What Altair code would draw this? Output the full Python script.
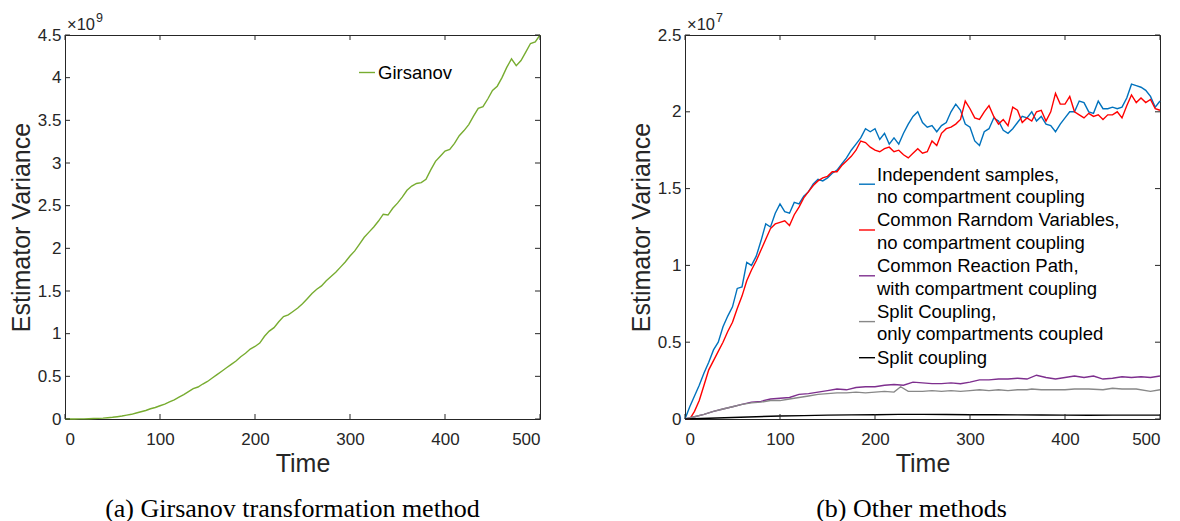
import altair as alt
import pandas as pd

# ---------------- data ----------------
time_a = list(range(0, 501, 5))
girsanov = [0, 0, 0, 0.001, 0.002, 0.003, 0.005, 0.007, 0.01, 0.015,
            0.02, 0.027, 0.035, 0.045, 0.055, 0.07, 0.085, 0.1, 0.12, 0.135,
            0.155, 0.175, 0.2, 0.225, 0.255, 0.285, 0.32, 0.355, 0.375, 0.41,
            0.44, 0.48, 0.52, 0.56, 0.6, 0.64, 0.68, 0.73, 0.77, 0.82,
            0.85, 0.89, 0.97, 1.03, 1.07, 1.14, 1.2, 1.22, 1.26, 1.3,
            1.35, 1.41, 1.47, 1.52, 1.56, 1.62, 1.67, 1.72, 1.78, 1.84,
            1.91, 1.97, 2.05, 2.13, 2.19, 2.25, 2.32, 2.4, 2.39, 2.47,
            2.53, 2.6, 2.68, 2.73, 2.76, 2.77, 2.81, 2.92, 3.02, 3.08,
            3.14, 3.16, 3.23, 3.32, 3.38, 3.45, 3.55, 3.64, 3.66, 3.75,
            3.85, 3.9, 4.0, 4.12, 4.22, 4.14, 4.2, 4.3, 4.4, 4.42, 4.5]

time_b = list(range(0, 501, 5))
independent = [0, 0.08, 0.15, 0.22, 0.30, 0.37, 0.45, 0.50, 0.60, 0.67,
               0.73, 0.85, 0.86, 1.02, 1.00, 1.06, 1.16, 1.27, 1.25, 1.34,
               1.40, 1.35, 1.34, 1.41, 1.40, 1.45, 1.48, 1.53, 1.56, 1.55,
               1.57, 1.60, 1.62, 1.66, 1.70, 1.75, 1.79, 1.83, 1.89, 1.87,
               1.89, 1.82, 1.86, 1.79, 1.83, 1.79, 1.86, 1.92, 1.97, 2.00,
               1.93, 1.90, 1.91, 1.87, 1.91, 1.93, 2.00, 2.05, 2.01, 1.92,
               1.90, 1.81, 1.78, 1.87, 1.89, 1.96, 1.94, 1.88, 1.86, 1.89,
               1.93, 1.97, 1.96, 2.00, 1.94, 1.97, 1.92, 1.91, 1.87, 1.92,
               1.96, 2.00, 2.00, 2.07, 2.06, 2.00, 1.99, 2.07, 2.02, 2.02,
               2.03, 2.02, 2.03, 2.09, 2.18, 2.17, 2.16, 2.14, 2.10, 2.03, 2.07]
common_random = [0, 0.0, 0.05, 0.12, 0.22, 0.32, 0.38, 0.44, 0.50, 0.57,
                 0.63, 0.72, 0.80, 0.90, 0.97, 1.03, 1.10, 1.17, 1.24, 1.27,
                 1.28, 1.29, 1.26, 1.33, 1.38, 1.44, 1.48, 1.52, 1.55, 1.57,
                 1.58, 1.61, 1.61, 1.65, 1.68, 1.71, 1.75, 1.81, 1.80, 1.77,
                 1.75, 1.74, 1.76, 1.77, 1.74, 1.75, 1.72, 1.70, 1.73, 1.76,
                 1.73, 1.74, 1.81, 1.78, 1.86, 1.89, 1.90, 1.92, 1.95, 2.07,
                 2.02, 1.96, 1.95, 2.00, 2.04, 1.97, 1.92, 1.95, 1.91, 2.03,
                 2.01, 1.93, 1.96, 1.94, 2.00, 2.01, 1.94, 2.00, 2.12, 2.05,
                 2.05, 2.10, 2.00, 1.98, 1.96, 1.99, 1.97, 1.98, 1.95, 1.98,
                 1.98, 2.00, 1.96, 2.04, 2.11, 2.06, 2.09, 2.06, 2.08, 2.02, 2.01]

time_c = list(range(0, 501, 10))
reaction_path = [0, 0.015, 0.03, 0.05, 0.065, 0.08, 0.095, 0.11, 0.115, 0.13,
                 0.135, 0.14, 0.16, 0.165, 0.175, 0.185, 0.195, 0.19, 0.205, 0.21,
                 0.21, 0.22, 0.225, 0.22, 0.24, 0.235, 0.23, 0.23, 0.235, 0.23,
                 0.24, 0.255, 0.255, 0.26, 0.26, 0.265, 0.26, 0.285, 0.27, 0.26,
                 0.27, 0.28, 0.27, 0.28, 0.26, 0.265, 0.275, 0.27, 0.275, 0.27, 0.28]

time_d = [0, 10, 20, 30, 40, 50, 60, 70, 80, 90, 100, 110, 120, 130, 140, 150,
          160, 170, 180, 190, 200, 210, 220, 227, 235, 250, 260, 270, 280, 290,
          300, 310, 320, 330, 340, 350, 360, 365, 375, 390, 400, 410, 425, 440,
          450, 460, 475, 490, 500]
split_compartments = [0, 0.015, 0.03, 0.05, 0.065, 0.08, 0.095, 0.105, 0.11, 0.12,
                      0.12, 0.13, 0.14, 0.15, 0.16, 0.165, 0.17, 0.17, 0.175, 0.17,
                      0.175, 0.18, 0.175, 0.21, 0.18, 0.18, 0.185, 0.18, 0.185, 0.18,
                      0.185, 0.19, 0.185, 0.19, 0.185, 0.19, 0.19, 0.195, 0.19, 0.19,
                      0.19, 0.195, 0.195, 0.19, 0.2, 0.195, 0.195, 0.18, 0.19]

time_e = list(range(0, 501, 25))
split_coupling = [0, 0.005, 0.01, 0.015, 0.02, 0.022, 0.025, 0.027, 0.028, 0.03,
                  0.03, 0.029, 0.028, 0.028, 0.027, 0.026, 0.025, 0.024, 0.025, 0.025, 0.025]

x_ticks = [0, 100, 200, 300, 400, 500]
y_ticks_a = [0, 0.5, 1, 1.5, 2, 2.5, 3, 3.5, 4, 4.5]
y_ticks_b = [0, 0.5, 1, 1.5, 2, 2.5]

legend_a = ["Girsanov"]
legend_b = [["Independent samples,", "no compartment coupling"],
            ["Common Rarndom Variables,", "no compartment coupling"],
            ["Common Reaction Path,", "with compartment coupling"],
            ["Split Coupling,", "only compartments coupled"],
            ["Split coupling"]]
colors_b = ["#0072BD", "#FF0000", "#7E2F8E", "#888888", "#000000"]
color_a = "#77AC30"

# ---------------- style ----------------
FONT = "Liberation Sans"
AX = "#262626"
W, H = 475, 384
TK = 5


def panel(series, y_ticks, ymax, exponent, legend_layers, caption, dx):
    xs = alt.Scale(domain=[0, 500], nice=False, zero=False)
    ys = alt.Scale(domain=[0, ymax], nice=False)
    xax = alt.Axis(values=x_ticks, title="Time", format="d")
    yax = alt.Axis(values=y_ticks, title="Estimator Variance", format="~g")
    layers = []
    for t, v, col in series:
        df = pd.DataFrame({"t": t, "v": v})
        layers.append(alt.Chart(df).mark_line(color=col, strokeWidth=1.4).encode(
            x=alt.X("t:Q", scale=xs, axis=xax), y=alt.Y("v:Q", scale=ys, axis=yax)))
    # inward ticks on all four sides
    dfx = pd.DataFrame({"t": x_ticks})
    dfy = pd.DataFrame({"v": y_ticks})
    tick = dict(color=AX, strokeWidth=1)
    layers.append(alt.Chart(dfx).mark_rule(**tick).encode(
        x=alt.X("t:Q", scale=xs, axis=xax), y=alt.value(H), y2=alt.value(H - TK)))
    layers.append(alt.Chart(dfx).mark_rule(**tick).encode(
        x=alt.X("t:Q", scale=xs, axis=xax), y=alt.value(0), y2=alt.value(TK)))
    layers.append(alt.Chart(dfy).mark_rule(**tick).encode(
        y=alt.Y("v:Q", scale=ys, axis=yax), x=alt.value(0), x2=alt.value(TK)))
    layers.append(alt.Chart(dfy).mark_rule(**tick).encode(
        y=alt.Y("v:Q", scale=ys, axis=yax), x=alt.value(W - TK), x2=alt.value(W)))
    # exponent label
    one = pd.DataFrame({"a": [0]})
    layers.append(alt.Chart(one).mark_text(font=FONT, fontSize=16.5, color=AX, align="left",
                                           baseline="alphabetic").encode(
        x=alt.value(2), y=alt.value(-5), text=alt.value("×10")))
    layers.append(alt.Chart(one).mark_text(font=FONT, fontSize=12.5, color=AX, align="left",
                                           baseline="alphabetic").encode(
        x=alt.value(31), y=alt.value(-13.5), text=alt.value(exponent)))
    layers += legend_layers
    return alt.layer(*layers).properties(
        width=W, height=H,
        title=alt.TitleParams(text=caption, orient="bottom", font="Liberation Serif", fontSize=26,
                              fontWeight="normal", color="black", offset=20, anchor="middle",
                              frame="group", dx=dx))


def legend_entry(lines, color, y0, sym_y, x_sym=(174, 190), x_text=192, fs=18.5, lh=22.4):
    one = pd.DataFrame({"a": [0]})
    out = [alt.Chart(one).mark_rule(color=color, strokeWidth=1.4).encode(
        x=alt.value(x_sym[0]), x2=alt.value(x_sym[1]), y=alt.value(sym_y))]
    for i, ln in enumerate(lines):
        out.append(alt.Chart(one).mark_text(font=FONT, fontSize=fs, color="black", align="left",
                                            baseline="middle").encode(
            x=alt.value(x_text), y=alt.value(y0 + i * lh), text=alt.value(ln)))
    return out


leg_a = legend_entry(legend_a, color_a, 37.5, 37.5, x_sym=(294, 310), x_text=313)
leg_b = []
for i, (lines, col) in enumerate(zip(legend_b, colors_b)):
    y0 = 139.5 + 45.8 * i
    sy = y0 + 9.7 if len(lines) > 1 else y0
    leg_b += legend_entry(lines, col, y0, sy)

left = panel([(time_a, girsanov, color_a)], y_ticks_a, 4.5, "9", leg_a,
             "(a)  Girsanov transformation method", -10)
right = panel([(time_b, independent, colors_b[0]),
               (time_b, common_random, colors_b[1]),
               (time_c, reaction_path, colors_b[2]),
               (time_d, split_compartments, colors_b[3]),
               (time_e, split_coupling, colors_b[4])],
              y_ticks_b, 2.5, "7", leg_b, "(b)  Other methods", -11)

chart = alt.hconcat(left, right, spacing=84).properties(
    padding={"left": 0, "top": 3, "right": 0, "bottom": 0}
).configure_view(stroke=AX, strokeWidth=1).configure_axis(
    ticks=False, tickSize=0, domain=False, grid=False,
    labelFont=FONT, labelFontSize=17, labelColor=AX,
    titleFont=FONT, titleFontSize=25, titleFontWeight="normal", titleColor=AX,
).configure_axisX(labelPadding=12, titlePadding=4).configure_axisY(labelPadding=4, titlePadding=3)

chart.save("out.html", embed_options={"renderer": "svg", "actions": False})
